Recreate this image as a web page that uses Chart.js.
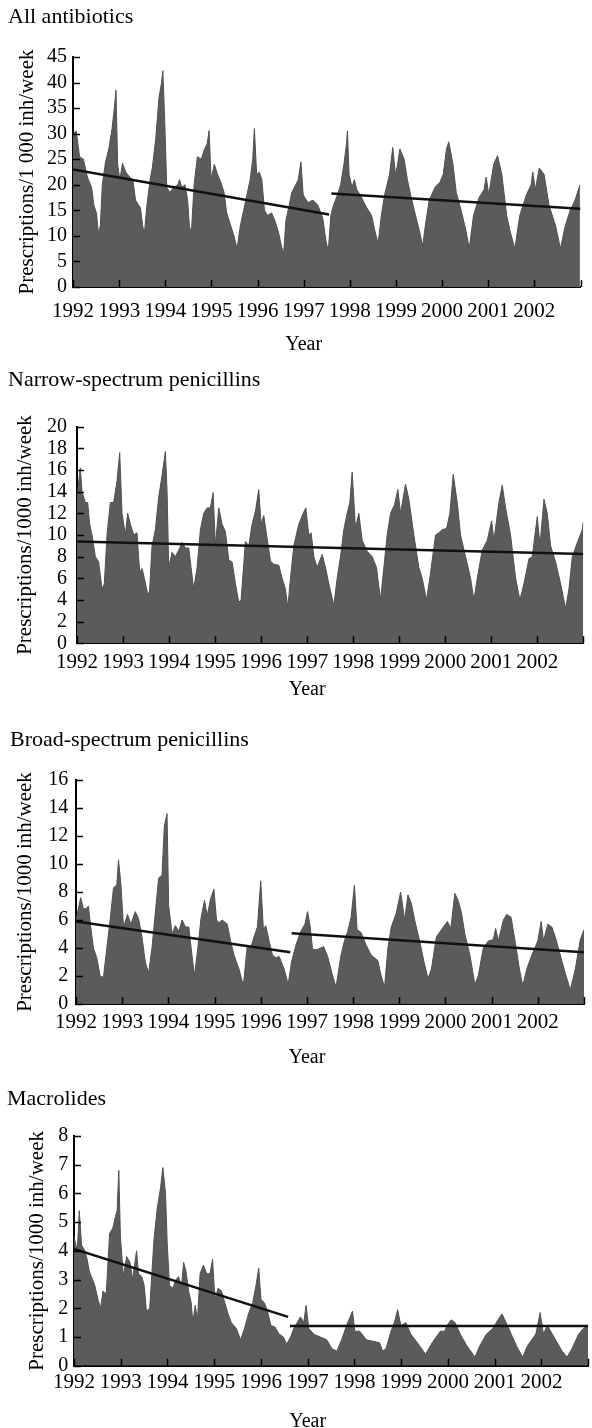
<!DOCTYPE html>
<html>
<head>
<meta charset="utf-8">
<script src="https://cdn.jsdelivr.net/npm/chart.js@4.4.0/dist/chart.umd.min.js"></script>
<style>
  body { margin: 0; background: #fff; }
  #wrap { position: relative; width: 592px; height: 1428px; }
  canvas { position: absolute; left: 0; }
</style>
</head>
<body>
<div id="wrap">
  <canvas id="c1" width="592" height="360" style="top:0px"></canvas>
  <canvas id="c2" width="592" height="360" style="top:360px"></canvas>
  <canvas id="c3" width="592" height="360" style="top:720px"></canvas>
  <canvas id="c4" width="592" height="348" style="top:1080px"></canvas>
</div>
<script>
// weekly prescriptions per 1000 inhabitants (decimal year, value)
var tickYears = [1992, 1993, 1994, 1995, 1996, 1997, 1998, 1999, 2000, 2001, 2002];

var allYears = [1992.000, 1992.071, 1992.141, 1992.226, 1992.311, 1992.402, 1992.452, 1992.508, 1992.550, 1992.593,
  1992.635, 1992.706, 1992.776, 1992.847, 1992.896, 1992.932, 1992.967, 1993.016, 1993.073, 1993.143,
  1993.228, 1993.298, 1993.355, 1993.461, 1993.510, 1993.545, 1993.602, 1993.672, 1993.722, 1993.793,
  1993.863, 1993.920, 1993.948, 1993.990, 1994.032, 1994.096, 1994.188, 1994.272, 1994.308, 1994.357,
  1994.428, 1994.484, 1994.526, 1994.569, 1994.625, 1994.696, 1994.781, 1994.851, 1994.908, 1994.950,
  1994.993, 1995.063, 1995.134, 1995.205, 1995.274, 1995.331, 1995.402, 1995.487, 1995.557, 1995.628,
  1995.698, 1995.769, 1995.840, 1995.896, 1995.931, 1995.981, 1996.037, 1996.093, 1996.150, 1996.213,
  1996.305, 1996.375, 1996.460, 1996.517, 1996.566, 1996.615, 1996.686, 1996.742, 1996.883, 1996.940,
  1996.989, 1997.095, 1997.200, 1997.307, 1997.413, 1997.483, 1997.533, 1997.589, 1997.646, 1997.731,
  1997.801, 1997.872, 1997.928, 1997.949, 1997.984, 1998.048, 1998.097, 1998.154, 1998.224, 1998.366,
  1998.472, 1998.542, 1998.613, 1998.683, 1998.754, 1998.860, 1998.931, 1998.987, 1999.036, 1999.085,
  1999.177, 1999.248, 1999.318, 1999.424, 1999.509, 1999.580, 1999.636, 1999.721, 1999.847, 1999.953,
  2000.024, 2000.095, 2000.144, 2000.236, 2000.307, 2000.413, 2000.518, 2000.589, 2000.681, 2000.801,
  2000.907, 2000.956, 2001.012, 2001.118, 2001.203, 2001.295, 2001.400, 2001.471, 2001.577, 2001.683,
  2001.825, 2001.930, 2001.966, 2002.021, 2002.106, 2002.212, 2002.318, 2002.459, 2002.565, 2002.671,
  2002.777, 2002.882, 2002.988];
var allValues = [30, 30.5, 25.5, 25, 21.5, 19.5, 16, 14.5, 10.5, 12,
  20, 24.5, 27, 31, 35, 38.5, 24, 21, 24.2, 22.5,
  21.5, 21, 17, 15.5, 12, 10.2, 16, 21, 23.5, 29,
  37, 40, 42.3, 32, 19.5, 18.5, 19.5, 20, 21, 19.5,
  20, 17, 11.5, 11.2, 20, 25.5, 25, 27, 28, 30.6,
  21, 24, 22, 20.5, 18.5, 14.5, 12.5, 10, 7.5, 12,
  15, 18, 21, 25, 31, 22, 22.5, 21, 15, 14,
  14.5, 13, 10.5, 8, 6.5, 13, 16, 18.5, 21, 24.5,
  18, 16.5, 17, 16, 13.5, 9, 7, 14, 16, 18,
  20, 24, 28, 30.5, 22, 19.5, 21, 19, 18, 15.5,
  14, 11, 8.5, 14, 18, 22, 27.3, 22, 24, 27,
  25, 21, 18, 14, 11, 8, 12, 17, 19.5, 20.5,
  22, 27, 28.4, 24, 18.5, 15, 11, 7.5, 14, 17.5,
  19, 21.5, 18, 24, 25.7, 22, 14, 11, 7.5, 14,
  18, 20, 22.5, 19, 23.3, 22, 16, 12, 7.5, 12,
  15, 17, 20];
// trend segments: [fromYear, fromValue, toYear, toValue]
var allTrends = [[1992, 23, 1997.55, 14.2], [1997.6, 18.3, 2003, 15.3]];

var narrowYears = [1992.000, 1992.072, 1992.109, 1992.181, 1992.232, 1992.275, 1992.326, 1992.399, 1992.471, 1992.543,
  1992.594, 1992.652, 1992.725, 1992.797, 1992.870, 1992.928, 1992.978, 1993.051, 1993.101, 1993.159,
  1993.232, 1993.304, 1993.362, 1993.413, 1993.464, 1993.522, 1993.572, 1993.630, 1993.703, 1993.775,
  1993.848, 1993.920, 1993.957, 1993.993, 1994.065, 1994.138, 1994.210, 1994.283, 1994.355, 1994.428,
  1994.478, 1994.536, 1994.609, 1994.681, 1994.754, 1994.826, 1994.899, 1994.957, 1995.007, 1995.080,
  1995.152, 1995.225, 1995.297, 1995.370, 1995.442, 1995.514, 1995.565, 1995.659, 1995.732, 1995.804,
  1995.877, 1995.949, 1996.000, 1996.058, 1996.130, 1996.203, 1996.275, 1996.384, 1996.457, 1996.529,
  1996.580, 1996.638, 1996.710, 1996.819, 1996.913, 1996.971, 1997.036, 1997.087, 1997.145, 1997.217,
  1997.326, 1997.399, 1997.471, 1997.580, 1997.652, 1997.725, 1997.797, 1997.870, 1997.928, 1997.978,
  1998.051, 1998.123, 1998.196, 1998.304, 1998.413, 1998.507, 1998.594, 1998.667, 1998.739, 1998.812,
  1998.899, 1998.971, 1999.029, 1999.138, 1999.210, 1999.319, 1999.428, 1999.500, 1999.594, 1999.681,
  1999.790, 1999.862, 1999.935, 2000.029, 2000.101, 2000.174, 2000.261, 2000.333, 2000.442, 2000.551,
  2000.623, 2000.696, 2000.804, 2000.913, 2001.007, 2001.058, 2001.167, 2001.239, 2001.312, 2001.420,
  2001.529, 2001.623, 2001.710, 2001.819, 2001.891, 2002.000, 2002.058, 2002.145, 2002.217, 2002.290,
  2002.399, 2002.507, 2002.616, 2002.688, 2002.761, 2002.870, 2002.978, 2003.000];
var narrowValues = [13.5, 16.2, 14, 13, 13, 11, 10, 8, 7.5, 5,
  5.5, 10, 13, 13, 15, 17.6, 12, 10, 12, 11,
  10, 10.2, 6.5, 6.9, 6, 4.8, 4.5, 9, 10.5, 13.5,
  15.5, 17.7, 14, 7, 8.4, 8, 8.6, 9.3, 8.8, 8.8,
  7, 5, 7, 10.5, 12, 12.5, 12.5, 13.9, 9, 12.5,
  11, 10.3, 7.7, 7.5, 5.5, 3.8, 4, 9.4, 9, 11,
  12.2, 14.2, 11, 11.8, 9.7, 7.6, 7.3, 7.2, 6, 5,
  3.3, 6, 9, 11, 12, 12.5, 10, 10.2, 8, 7,
  8.2, 7, 5.5, 3.5, 6, 8, 10.5, 12, 13, 15.8,
  10.6, 12, 9.5, 8.5, 8, 7, 4, 7, 10, 12,
  12.8, 14.2, 12, 14.7, 13.3, 10, 7, 6, 4, 6.5,
  10, 10.2, 10.5, 10.6, 12, 15.6, 13, 10, 8, 6,
  4, 6, 8.6, 9.5, 11.3, 9.5, 13, 14.6, 12.5, 10,
  6, 4, 5.5, 7.8, 8, 11.7, 9, 13.3, 12, 9,
  7.5, 5.5, 3.2, 5, 8, 9.3, 10.5, 11.2];
var narrowTrends = [[1992, 9.4, 2003, 8.25]];

var broadYears = [1992.000, 1992.101, 1992.159, 1992.217, 1992.268, 1992.319, 1992.377, 1992.449, 1992.522, 1992.594,
  1992.667, 1992.739, 1992.812, 1992.884, 1992.920, 1992.971, 1993.029, 1993.116, 1993.188, 1993.283,
  1993.355, 1993.428, 1993.500, 1993.572, 1993.645, 1993.717, 1993.790, 1993.862, 1993.913, 1993.971,
  1994.007, 1994.080, 1994.152, 1994.225, 1994.297, 1994.370, 1994.442, 1994.493, 1994.565, 1994.638,
  1994.710, 1994.783, 1994.841, 1994.913, 1994.986, 1995.043, 1995.094, 1995.167, 1995.275, 1995.348,
  1995.420, 1995.529, 1995.623, 1995.710, 1995.783, 1995.855, 1995.928, 1996.000, 1996.058, 1996.109,
  1996.181, 1996.254, 1996.326, 1996.399, 1996.507, 1996.594, 1996.667, 1996.761, 1996.870, 1996.957,
  1997.014, 1997.072, 1997.123, 1997.232, 1997.362, 1997.449, 1997.558, 1997.630, 1997.739, 1997.812,
  1997.884, 1997.957, 1998.029, 1998.087, 1998.174, 1998.283, 1998.391, 1998.536, 1998.609, 1998.681,
  1998.754, 1998.826, 1998.935, 1999.029, 1999.116, 1999.188, 1999.261, 1999.333, 1999.442, 1999.536,
  1999.623, 1999.696, 1999.804, 1999.913, 2000.043, 2000.116, 2000.203, 2000.275, 2000.348, 2000.420,
  2000.529, 2000.638, 2000.710, 2000.819, 2000.928, 2001.036, 2001.087, 2001.145, 2001.254, 2001.326,
  2001.420, 2001.507, 2001.601, 2001.674, 2001.761, 2001.870, 2002.000, 2002.072, 2002.123, 2002.217,
  2002.304, 2002.377, 2002.486, 2002.594, 2002.703, 2002.812, 2002.920, 2003.000];
var broadValues = [6, 7.6, 6.8, 6.8, 7, 5.5, 4, 3.3, 2, 1.9,
  4, 6, 8.3, 8.5, 10.3, 8.6, 5.5, 6.4, 5.7, 6.6,
  6.1, 4.8, 3, 2.2, 4, 6.5, 9, 9.2, 12.7, 13.6,
  7, 5, 5.6, 5.2, 6, 5.5, 5.5, 4, 2, 4,
  6.2, 7.4, 6.3, 7.5, 8.2, 6, 5.8, 6, 5.7, 4.5,
  3.5, 2.5, 1.3, 4.2, 4, 4.8, 5.5, 8.8, 5.3, 5.6,
  4.5, 3.5, 3.3, 3.4, 2.5, 1.4, 3, 4.2, 5.2, 5.7,
  6.6, 5.5, 3.9, 3.9, 4.1, 3.4, 2, 1.2, 3.5, 4.5,
  5.2, 6.2, 8.5, 5.3, 5.1, 4.2, 3.5, 3.1, 2, 1.2,
  4, 5.5, 6.5, 8, 6, 7.8, 7.2, 6, 4.5, 3,
  1.8, 2.5, 4.8, 5.3, 5.9, 5.4, 7.9, 7.4, 6.5, 5,
  3.5, 1.4, 2, 4, 4.5, 4.6, 5.4, 4.5, 6, 6.4,
  6.2, 4.5, 2.5, 1.3, 2.5, 3.5, 4.5, 5.9, 4.5, 5.7,
  5.5, 4.8, 3.5, 2.2, 1, 2.5, 4.6, 5.3];
var broadTrends = [[1992, 5.9, 1996.64, 3.7], [1996.67, 5.05, 2003, 3.7]];

var macroYears = [1992.000, 1992.070, 1992.113, 1992.162, 1992.232, 1992.282, 1992.324, 1992.373, 1992.444, 1992.514,
  1992.570, 1992.620, 1992.690, 1992.761, 1992.831, 1992.887, 1992.923, 1992.958, 1992.993, 1993.056,
  1993.127, 1993.197, 1993.254, 1993.338, 1993.380, 1993.451, 1993.500, 1993.549, 1993.620, 1993.711,
  1993.782, 1993.852, 1993.901, 1993.958, 1993.993, 1994.042, 1994.113, 1994.183, 1994.239, 1994.296,
  1994.345, 1994.394, 1994.451, 1994.507, 1994.542, 1994.592, 1994.641, 1994.697, 1994.768, 1994.838,
  1994.908, 1994.965, 1995.014, 1995.085, 1995.155, 1995.225, 1995.296, 1995.366, 1995.472, 1995.563,
  1995.648, 1995.732, 1995.824, 1995.894, 1995.951, 1996.000, 1996.070, 1996.141, 1996.211, 1996.296,
  1996.387, 1996.479, 1996.549, 1996.634, 1996.704, 1996.845, 1996.915, 1996.965, 1997.021, 1997.127,
  1997.268, 1997.408, 1997.514, 1997.620, 1997.725, 1997.831, 1997.958, 1998.007, 1998.113, 1998.254,
  1998.394, 1998.535, 1998.606, 1998.676, 1998.782, 1998.852, 1998.923, 1998.993, 1999.099, 1999.204,
  1999.345, 1999.521, 1999.662, 1999.838, 1999.930, 1999.979, 2000.070, 2000.155, 2000.261, 2000.401,
  2000.577, 2000.683, 2000.824, 2000.965, 2001.070, 2001.155, 2001.246, 2001.352, 2001.493, 2001.599,
  2001.704, 2001.880, 2001.972, 2002.042, 2002.127, 2002.232, 2002.338, 2002.444, 2002.549, 2002.655,
  2002.796, 2002.901, 2003.000];
var macroValues = [4.5, 4, 5.4, 4.2, 4, 3.7, 3.3, 3.1, 2.8, 2.3,
  2, 2.6, 2.5, 4.6, 4.8, 5.2, 5.4, 6.8, 4.5, 3.1,
  3.8, 3.6, 3, 4, 3.2, 3.1, 2.8, 1.9, 2, 4.4,
  5.5, 6.2, 6.9, 6, 4.3, 2.8, 2.7, 3, 3.1, 2.7,
  3.6, 3.3, 2.6, 2.2, 1.5, 2.1, 1.6, 3.2, 3.5, 3.2,
  3.2, 3.7, 2.3, 2.7, 2.6, 2.2, 1.8, 1.5, 1.3, 0.9,
  1.3, 1.8, 2.2, 2.8, 3.4, 2.3, 2.2, 1.9, 1.4, 1.35,
  1.1, 1, 0.75, 1, 1.3, 1.7, 1.5, 2.1, 1.3, 1.1,
  1, 0.9, 0.6, 0.5, 0.9, 1.4, 1.9, 1.2, 1.2, 0.9,
  0.85, 0.8, 0.5, 0.6, 1.2, 1.5, 1.95, 1.4, 1.5, 1.1,
  0.8, 0.4, 0.8, 1.2, 1.2, 1.4, 1.6, 1.5, 1.1, 0.7,
  0.3, 0.7, 1.1, 1.3, 1.6, 1.8, 1.5, 1.1, 0.6, 0.3,
  0.7, 1.1, 1.85, 1.1, 1.4, 1.1, 0.8, 0.5, 0.3, 0.6,
  1.1, 1.3, 1.4];
var macroTrends = [[1992, 4.07, 1996.58, 1.7], [1996.62, 1.38, 2003, 1.38]];

var serif = '"Liberation Serif", "Times New Roman", serif';
Chart.defaults.font.family = serif;
Chart.defaults.color = '#000';

// inward tick marks and the "Year" caption centred under the labelled years
var axisExtras = {
  id: 'axisExtras',
  afterDraw: function (chart, args, opts) {
    var ctx = chart.ctx, a = chart.chartArea, x = chart.scales.x, y = chart.scales.y;
    ctx.save();
    ctx.strokeStyle = '#000';
    ctx.lineWidth = 1.5;
    ctx.beginPath();
    x.ticks.forEach(function (t) {
      var px = Math.round(x.getPixelForValue(t.value)) + 0.5;
      ctx.moveTo(px, a.bottom);
      ctx.lineTo(px, a.bottom - 7);
    });
    y.ticks.forEach(function (t) {
      var py = Math.round(y.getPixelForValue(t.value)) + 0.5;
      ctx.moveTo(a.left, py);
      ctx.lineTo(a.left + 7, py);
    });
    ctx.stroke();
    ctx.fillStyle = '#000';
    ctx.font = '20px ' + serif;
    ctx.textAlign = 'center';
    ctx.textBaseline = 'alphabetic';
    var mid = (x.getPixelForValue(tickYears[0]) + x.getPixelForValue(tickYears[tickYears.length - 1])) / 2;
    ctx.fillText('Year', mid, opts.baseline);
    ctx.restore();
  }
};

function makePanel(id, title, yTitle, years, values, trends, yMax, yStep, L) {
  var pts = years.map(function (yr, i) { return {x: yr, y: values[i]}; });
  var sets = [{
    data: pts, fill: 'origin', backgroundColor: '#5b5b5b', borderColor: '#505050',
    borderWidth: 1, pointRadius: 0, tension: 0, order: 2
  }];
  trends.forEach(function (t) {
    sets.push({
      data: [{x: t[0], y: t[1]}, {x: t[2], y: t[3]}], borderColor: '#111', borderWidth: 2.5,
      pointRadius: 0, fill: false, order: 1
    });
  });
  var canvas = document.getElementById(id);
  new Chart(canvas, {
    type: 'line',
    data: {datasets: sets},
    options: {
      responsive: false,
      animation: false,
      layout: {padding: {left: L.left, right: 592 - L.plotRight, top: 0, bottom: 0}},
      plugins: {
        legend: {display: false},
        tooltip: {enabled: false},
        title: {
          display: true, text: title, align: 'start', color: '#000',
          font: {size: 22, weight: 'normal'},
          padding: {top: L.titleTop, bottom: L.plotTop - 26.4 - L.titleTop}
        },
        axisExtras: {baseline: L.yearBase}
      },
      scales: {
        x: {
          type: 'linear', min: 1992, max: 2003,
          grid: {display: false, drawTicks: false},
          border: {display: true, color: '#000', width: 2},
          ticks: {
            stepSize: 1, autoSkip: false, maxRotation: 0, minRotation: 0,
            padding: L.xPad, color: '#000', font: {size: 21},
            callback: function (v) { return tickYears.indexOf(v) >= 0 ? String(v) : ''; }
          },
          afterFit: function (s) { s.height = canvas.height - L.plotBottom; }
        },
        y: {
          min: 0, max: yMax,
          grid: {display: false, drawTicks: false},
          border: {display: true, color: '#000', width: 2},
          ticks: {stepSize: yStep, autoSkip: false, padding: L.yPad, color: '#000', font: {size: 20}},
          title: {display: true, text: yTitle, color: '#000', font: {size: 21}, padding: {top: L.yTitlePad, bottom: 0}},
          afterFit: function (s) { s.width = L.plotLeft - L.left; }
        }
      }
    },
    plugins: [axisExtras]
  });
}

makePanel('c1', 'All antibiotics', 'Prescriptions/1 000 inh/week', allYears, allValues, allTrends, 45, 5,
  {left: 8, plotLeft: 73, plotRight: 592, plotTop: 57, plotBottom: 287, titleTop: 4.4, xPad: 11.5, yPad: 6, yTitlePad: 6.4, yearBase: 350});
makePanel('c2', 'Narrow-spectrum penicillins', 'Prescriptions/1000 inh/week', narrowYears, narrowValues, narrowTrends, 20, 2,
  {left: 8, plotLeft: 77, plotRight: 583.3, plotTop: 66.7, plotBottom: 283.3, titleTop: 6.9, xPad: 6.2, yPad: 10, yTitlePad: 4.4, yearBase: 335});
makePanel('c3', 'Broad-spectrum penicillins', 'Prescriptions/1000 inh/week', broadYears, broadValues, broadTrends, 16, 2,
  {left: 10, plotLeft: 76, plotRight: 584, plotTop: 60, plotBottom: 284, titleTop: 7.4, xPad: 5.5, yPad: 7.7, yTitlePad: 2.4, yearBase: 343});
makePanel('c4', 'Macrolides', 'Prescriptions/1000 inh/week', macroYears, macroValues, macroTrends, 8, 1,
  {left: 7, plotLeft: 74, plotRight: 591.7, plotTop: 56, plotBottom: 285.7, titleTop: 6.4, xPad: 3.8, yPad: 5.7, yTitlePad: 17.4, yearBase: 346.7});
</script>
</body>
</html>
